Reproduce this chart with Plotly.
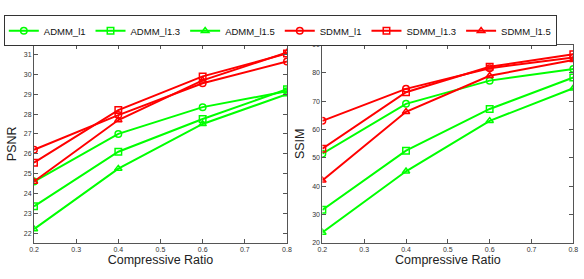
import plotly.graph_objects as go

ratios = [0.2, 0.4, 0.6, 0.8]
series_names = ["ADMM_l1", "ADMM_l1.3", "ADMM_l1.5", "SDMM_l1", "SDMM_l1.3", "SDMM_l1.5"]
psnr_admm_l1 = [24.6, 27.0, 28.35, 29.15]
psnr_admm_l13 = [23.35, 26.1, 27.75, 29.25]
psnr_admm_l15 = [22.2, 25.25, 27.5, 29.0]
psnr_sdmm_l1 = [26.2, 27.95, 29.55, 30.65]
psnr_sdmm_l13 = [25.55, 28.2, 29.9, 31.05]
psnr_sdmm_l15 = [24.6, 27.7, 29.7, 31.1]
ssim_admm_l1 = [51.5, 69.1, 77.3, 81.4]
ssim_admm_l13 = [31.7, 52.6, 67.3, 78.4]
ssim_admm_l15 = [23.7, 45.3, 63.1, 74.6]
ssim_sdmm_l1 = [63.1, 74.4, 81.7, 85.5]
ssim_sdmm_l13 = [53.3, 73.2, 82.2, 86.6]
ssim_sdmm_l15 = [42.1, 66.3, 79.0, 84.6]

psnr = [psnr_admm_l1, psnr_admm_l13, psnr_admm_l15, psnr_sdmm_l1, psnr_sdmm_l13, psnr_sdmm_l15]
ssim = [ssim_admm_l1, ssim_admm_l13, ssim_admm_l15, ssim_sdmm_l1, ssim_sdmm_l13, ssim_sdmm_l15]
colors = ["#00FF00"] * 3 + ["#FF0000"] * 3
symbols = ["circle-open", "square-open", "triangle-up-open"] * 2

fig = go.Figure()
for i, name in enumerate(series_names):
    fig.add_trace(go.Scatter(
        x=ratios, y=psnr[i], name=name, mode="lines+markers",
        line=dict(color=colors[i], width=2),
        marker=dict(symbol=symbols[i], size=6.5, color=colors[i], line=dict(width=1.5, color=colors[i])),
        xaxis="x", yaxis="y", legendgroup=name))
for i, name in enumerate(series_names):
    fig.add_trace(go.Scatter(
        x=ratios, y=ssim[i], name=name, mode="lines+markers", showlegend=False,
        line=dict(color=colors[i], width=2),
        marker=dict(symbol=symbols[i], size=6.5, color=colors[i], line=dict(width=1.5, color=colors[i])),
        xaxis="x2", yaxis="y2", legendgroup=name))

axis_common = dict(showline=True, linecolor="#555555", linewidth=1, mirror="ticks",
                   ticks="inside", ticklen=4, tickcolor="#555555", showgrid=False, zeroline=False,
                   automargin=False,
                   tickfont=dict(size=7, color="#333333", family="Liberation Sans"))
title_font = dict(size=12.5, color="#222222", family="Liberation Sans")

fig.update_layout(
    width=584, height=279,
    margin=dict(l=0, r=0, t=0, b=0, autoexpand=False),
    paper_bgcolor="white", plot_bgcolor="white",
    xaxis=dict(domain=[0.0582, 0.4914], range=[0.2, 0.8], dtick=0.1, tickformat=".1f",
               title=dict(text="Compressive Ratio", font=title_font, standoff=2), anchor="y", **axis_common),
    yaxis=dict(domain=[0.129, 0.840], range=[21.5, 31.5], dtick=1,
               title=dict(text="PSNR", font=title_font, standoff=4), anchor="x", **axis_common),
    xaxis2=dict(domain=[0.552, 0.9817], range=[0.2, 0.8], dtick=0.1, tickformat=".1f",
                title=dict(text="Compressive Ratio", font=title_font, standoff=2), anchor="y2", **axis_common),
    yaxis2=dict(domain=[0.129, 0.840], range=[20, 90], dtick=10,
                title=dict(text="SSIM", font=title_font, standoff=4), anchor="x2", **axis_common),
    legend=dict(orientation="h", x=0.48, xanchor="center", y=0.945, yanchor="top",
                bordercolor="#333333", borderwidth=1, bgcolor="white",
                font=dict(size=9.5, family="Liberation Sans", color="#111111"),
                tracegroupgap=0, itemwidth=30),
    showlegend=True,
)
fig.write_html("out.html", config={"displayModeBar": False},
               post_script="document.body.style.margin='0';")
